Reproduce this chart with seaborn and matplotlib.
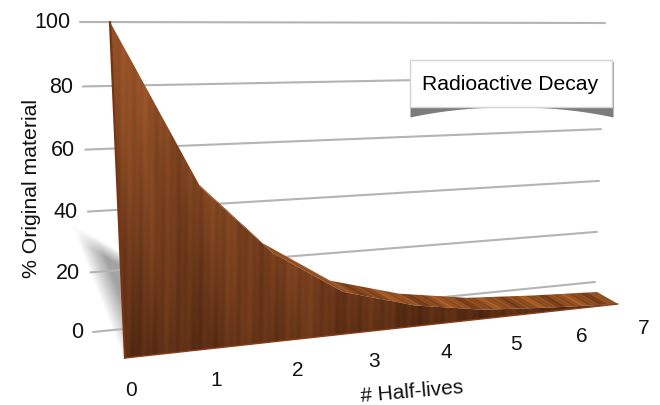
import numpy as np
import pandas as pd
import seaborn as sns
import matplotlib
matplotlib.use('Agg')
import matplotlib.pyplot as plt
from matplotlib.patches import Polygon, Rectangle
from matplotlib.transforms import Transform

half_lives = [0, 1, 2, 3, 4, 5, 6, 7]
curve_x = [0, 1.1, 2.05, 3, 4, 5, 6, 7]
remaining = [100, 49, 27, 13, 6.5, 2.8, 1.2, 0]
y_ticks = [0, 20, 40, 60, 80, 100]
title = 'Radioactive Decay'


class Perspective(Transform):
    # chart coordinates -> pixel coordinates of the tilted picture
    input_dims = 2
    output_dims = 2
    is_separable = False
    has_inverse = False

    def __init__(self, h):
        super().__init__()
        self.h = np.asarray(h, dtype=float)

    def transform_non_affine(self, values):
        v = np.asarray(values, dtype=float)
        p = np.column_stack([v, np.ones(len(v))]) @ self.h.T
        return p[:, :2] / p[:, 2:3]


def from_corners(p00, p70, p0t, p7t):
    # solve the homography from where four chart corners end up
    src = [(0, 0), (7, 0), (0, 100), (7, 100)]
    dst = [p00, p70, p0t, p7t]
    a, b = [], []
    for (x, y), (u, v) in zip(src, dst):
        a.append([x, y, 1, 0, 0, 0, -u * x, -u * y])
        a.append([0, 0, 0, x, y, 1, -v * x, -v * y])
        b += [u, v]
    return Perspective(np.append(np.linalg.solve(a, b), 1).reshape(3, 3))


wall = from_corners((93, 332), (595, 282), (80, 22), (605, 23))
front = from_corners((125, 358), (618, 304), (110, 22), (608, -10))
rear = from_corners((118, 345), (597, 292), (110, 22), (590, -10))
tick_line = Perspective([[91.8, 0, 131], [0.586, -1, 391], [0.0288, 0, 1]])

sns.set_theme(style='white')
plt.rcParams['font.family'] = ['Liberation Sans', 'DejaVu Sans']

fig, ax = plt.subplots(figsize=(6.6, 4.05), dpi=100)
ax.set_position([0, 0, 1, 1])
ax.axis('off')

yy, xx = np.mgrid[0:405, 0:660]

# soft shadow behind the slab, it stops at the slab's left edge
d1 = ((xx - 70) * 123 - (yy - 222) * 48) / 132.0
d2 = ((yy - 222) * 48 - (xx - 70) * 28) / 55.6
shade = np.clip(d1 / 20, 0, 1) * np.clip(d2 / 12, 0, 1) * np.clip((358 - yy) / 14, 0, 1)
shade = shade * (xx < 124)
shadow = np.zeros((405, 660, 4))
shadow[..., :3] = 0.42
shadow[..., 3] = shade * 0.62
ax.imshow(shadow, extent=(0, 660, 405, 0), aspect='auto', zorder=1, interpolation='bilinear')

# grid on the back wall
for v in y_ticks:
    grid = pd.DataFrame({'x': [0, 7], 'y': [v, v]})
    sns.lineplot(data=grid, x='x', y='y', ax=ax, color='#b4b4b4', linewidth=1.5,
                 transform=wall + ax.transData, zorder=2, legend=False,
                 estimator=None, errorbar=None)
    ax.annotate(str(v), xy=(0, v), xycoords=wall + ax.transData, xytext=(-10, -1),
                textcoords='offset pixels', ha='right', va='center',
                fontsize=15.5, color='#111111', zorder=6)

# wood grain for the front of the slab
band = (np.sin(xx * 0.09 + np.sin(yy * 0.012) * 1.5) * 0.022
        + np.sin(xx * 0.31 + np.sin(yy * 0.02)) * 0.02
        + np.sin(xx * 0.83 + yy * 0.006) * 0.016
        + np.sin(xx * 0.023 + 1.0) * 0.02)
depth = np.clip((yy - 22) / 336.0, 0, 1)[..., None]
depth = depth * 0.95 + np.clip((xx[..., None] - 280) / 300.0, 0, 1) * 0.3
light = np.array([0.63, 0.35, 0.17])
dark = np.array([0.36, 0.18, 0.08])
wood = np.clip(light + (dark - light) * np.clip(depth, 0, 1.15) + band[..., None] * np.array([1.0, 0.6, 0.3]), 0, 1)

# same for the top of the slab, streaks run along the depth
streak = (np.sin((xx * 12 - yy * 21) * 0.035) * 0.05
          + np.sin((xx * 12 - yy * 21) * 0.012 + 1.0) * 0.06
          + np.sin((xx * 12 - yy * 21) * 0.09) * 0.03)
top_wood = np.clip(np.array([0.56, 0.30, 0.13]) + streak[..., None] * np.array([1.0, 0.65, 0.3]), 0, 1)

curve = np.column_stack([curve_x, remaining])
front_pts = front.transform(curve)
rear_pts = rear.transform(curve)

top_clip = Polygon(np.vstack([rear_pts, front_pts[::-1]]), closed=True,
                   transform=ax.transData, facecolor='none', edgecolor='none')
ax.add_patch(top_clip)
im_top = ax.imshow(top_wood, extent=(0, 660, 405, 0), aspect='auto', zorder=3)
im_top.set_clip_path(top_clip)

face = Polygon(np.vstack([curve, [[7, 0], [0, 0]]]), closed=True,
               transform=front + ax.transData, facecolor='none', edgecolor='none')
ax.add_patch(face)
im_face = ax.imshow(wood, extent=(0, 660, 405, 0), aspect='auto', zorder=4)
im_face.set_clip_path(face)

# edges of the slab
sns.lineplot(x=[0, 0], y=[0, 100], ax=ax, color='#7c3312', linewidth=1.6,
             transform=front + ax.transData, zorder=5, legend=False,
             estimator=None, errorbar=None, sort=False)
sns.lineplot(x=[0, 7], y=[0, 0], ax=ax, color='#8a3c16', linewidth=1.0,
             transform=front + ax.transData, zorder=5, legend=False,
             estimator=None, errorbar=None)

# x tick labels run along their own line
for t in half_lives:
    ax.text(t, 0, str(t), transform=tick_line + ax.transData, ha='center', va='center',
            fontsize=15, color='#111111', zorder=6)

ax.text(412, 392, '# Half-lives', rotation=5, ha='center', va='center',
        fontsize=15, color='#111111', rotation_mode='anchor')
ax.text(32, 189, '% Original material', rotation=90, ha='center', va='center',
        fontsize=15.3, color='#111111')

# callout box
bx = np.linspace(410, 613, 80)
ax.fill_between(bx, 106, 107 + 10 * np.abs((bx - 511.5) / 101.5) ** 2.2, color='#7c7c7c', linewidth=0, zorder=7)
ax.add_patch(Rectangle((611, 62), 3, 46, facecolor='#a0a0a0', edgecolor='none', zorder=7))
ax.add_patch(Rectangle((410, 60), 202, 47, facecolor='white', edgecolor='#d4d4d4', linewidth=1, zorder=8))
ax.text(510, 84, title, ha='center', va='center', fontsize=15.2, color='#000000', zorder=9)

ax.set_xlim(0, 660)
ax.set_ylim(405, 0)
ax.set_xlabel('')
ax.set_ylabel('')

fig.savefig('out.png', dpi=100)
